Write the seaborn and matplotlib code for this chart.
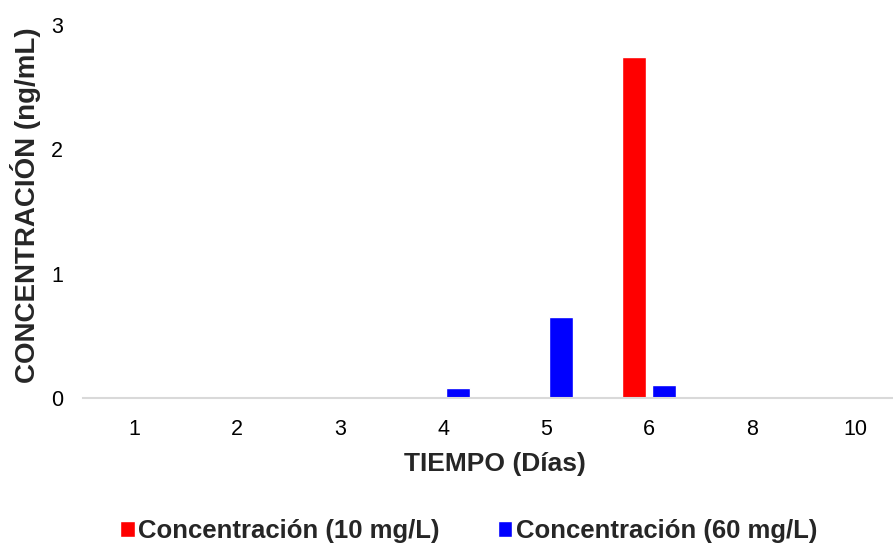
import pandas as pd
import numpy as np
import seaborn as sns
import matplotlib.pyplot as plt

# datos
dias = ['1', '2', '3', '4', '5', '6', '8', '10']
conc_10 = [0, 0, 0, 0, 0, 2.74, 0, 0]
conc_60 = [0, 0, 0, 0.08, 0.65, 0.105, 0, 0]
series = ['Concentración (10 mg/L)', 'Concentración (60 mg/L)']
colores = ['#ff0000', '#0000ff']

df = pd.DataFrame({
    'Dia': dias * 2,
    'Valor': conc_10 + conc_60,
    'Serie': [series[0]] * len(dias) + [series[1]] * len(dias),
})

sns.set_theme(style='white')
plt.rcParams['font.family'] = ['Liberation Sans', 'DejaVu Sans']

fig = plt.figure(figsize=(8.93, 5.46), dpi=100)
# el area del grafico sobrepasa un poco el borde derecho, como en el original
ax = fig.add_axes([0.0924, 0.271, 0.923, 0.683])

sns.barplot(data=df, x='Dia', y='Valor', hue='Serie', order=dias,
            hue_order=series, palette=colores, width=0.58, gap=0.2,
            saturation=1, ax=ax, legend=True)

ax.set_ylim(0, 3)
ax.set_yticks([0, 1, 2, 3])
ax.set_xlim(-0.5, len(dias) - 0.5)
for s in ['top', 'right', 'left']:
    ax.spines[s].set_visible(False)
ax.spines['bottom'].set_color('#d9d9d9')
ax.spines['bottom'].set_linewidth(1.5)
ax.tick_params(axis='both', length=0, labelsize=15.5, colors='black')
ax.tick_params(axis='x', pad=15)
ax.tick_params(axis='y', pad=14)

ax.set_xlabel('TIEMPO (Días)', fontsize=19, fontweight='bold', labelpad=9)
ax.set_ylabel('CONCENTRACIÓN (ng/mL)', fontsize=20, fontweight='bold')
ax.yaxis.set_label_coords(-0.050, 0.517)

handles, labels = ax.get_legend_handles_labels()
ax.get_legend().remove()
fig.legend(handles, labels, loc='center', bbox_to_anchor=(0.525, 0.027),
           ncol=2, frameon=False, prop={'size': 18.5, 'weight': 'bold'},
           handlelength=0.55, handleheight=0.55, handletextpad=0.15,
           columnspacing=2.25)

plt.savefig('out.png', dpi=100)
